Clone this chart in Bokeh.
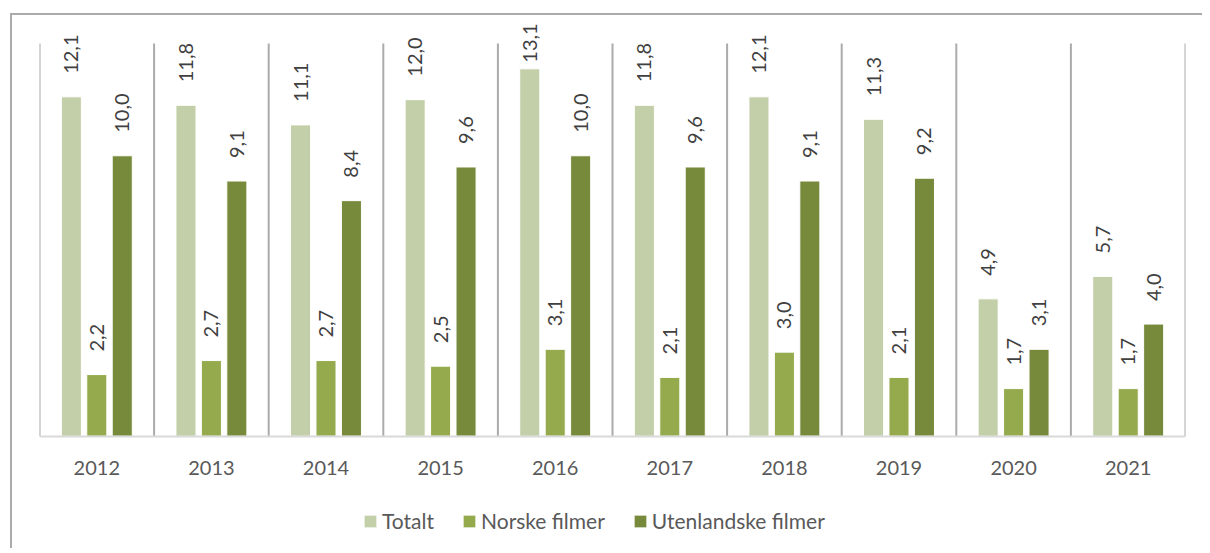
from bokeh.plotting import figure
from bokeh.models import ColumnDataSource, Range1d, FixedTicker, Legend, LegendItem
from bokeh.core.properties import value
from bokeh.embed import file_html
from bokeh.resources import INLINE

years = ["2012", "2013", "2014", "2015", "2016", "2017", "2018", "2019", "2020", "2021"]
totalt = [12.1, 11.8, 11.1, 12.0, 13.1, 11.8, 12.1, 11.3, 4.9, 5.7]
norske = [2.2, 2.7, 2.7, 2.5, 3.1, 2.1, 3.0, 2.1, 1.7, 1.7]
utenlandske = [10.0, 9.1, 8.4, 9.6, 10.0, 9.6, 9.1, 9.2, 3.1, 4.0]

series = [
    ("Totalt", totalt, "#c3cfa8", -0.222),
    ("Norske filmer", norske, "#94aa4c", 0.0),
    ("Utenlandske filmer", utenlandske, "#77893b", 0.222),
]

FONT = "Lato"
Y_MAX = 14          # top of the value axis (plot area)
LABEL_GAP = 0.82    # gap between bar top and its label, in value units
LABEL_CAP = 13.32   # labels are pushed down when they would leave the chart

p = figure(frame_width=1146, frame_height=533, output_backend="svg", toolbar_location=None,
           x_range=Range1d(0, len(years)), y_range=Range1d(-4, 15),
           min_border_left=27, min_border_right=17, min_border_top=0, min_border_bottom=0)
p.margin = (13, 0, 0, 10)
p.styles = {"border-top": "2px solid #ababab", "border-left": "2px solid #ababab"}
p.outline_line_color = None
p.background_fill_color = "white"
p.border_fill_color = "white"

p.yaxis.visible = False
p.ygrid.visible = False
p.xgrid.visible = False

centers = [i + 0.5 for i in range(len(years))]
p.xaxis.fixed_location = 0
p.xaxis.ticker = FixedTicker(ticks=centers)
p.xaxis.major_label_overrides = {c: y for c, y in zip(centers, years)}
p.xaxis.major_tick_line_color = None
p.xaxis.minor_tick_line_color = None
p.xaxis.axis_line_color = "#d9d9d9"
p.xaxis.axis_line_width = 2
p.xaxis.major_label_text_font = FONT
p.xaxis.major_label_text_font_size = "20px"
p.xaxis.major_label_text_color = "#595959"
p.xaxis.major_label_standoff = 19

# category separator lines spanning the value axis
bounds = list(range(len(years) + 1))
p.segment(x0=bounds, y0=[0] * len(bounds), x1=bounds, y1=[Y_MAX] * len(bounds),
          line_color="#ababab", line_width=2)

items = []
for name, vals, color, off in series:
    src = ColumnDataSource(dict(
        x=[c + off for c in centers],
        top=vals,
        ly=[min(v + LABEL_GAP, LABEL_CAP) for v in vals],
        label=[f"{v:.1f}".replace(".", ",") for v in vals],
    ))
    r = p.vbar(x="x", top="top", bottom=0, width=0.175, source=src,
               fill_color=color, line_color="white", line_width=1)
    p.text(x="x", y="ly", text="label", source=src, angle=1.5708,
           text_align="left", text_baseline="middle",
           text_font=value(FONT), text_font_size="20px", text_color="#404040")
    items.append(LegendItem(label=name, renderers=[r]))

legend = Legend(items=items, orientation="horizontal", location=(323, 15),
                label_text_font=FONT, label_text_font_size="21px",
                label_text_color="#595959", glyph_width=16, glyph_height=16,
                label_standoff=4, spacing=27, border_line_color=None,
                background_fill_alpha=0, margin=0, padding=5)
p.add_layout(legend)

open("out.html", "w").write(file_html(p, INLINE))
